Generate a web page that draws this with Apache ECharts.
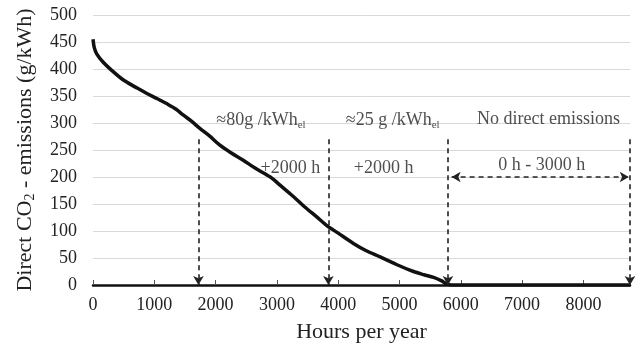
<!DOCTYPE html>
<html>
<head>
<meta charset="utf-8">
<script src="https://cdn.jsdelivr.net/npm/echarts@6/dist/echarts.min.js"></script>
<style>
  html, body { margin: 0; padding: 0; background: #fff; }
  #chart { width: 640px; height: 346px; }
</style>
</head>
<body>
<div id="chart"></div>
<script>
  // emission duration curve (hours sorted by intensity)
  const hours = [0, 20, 60, 163, 300, 490, 700, 872, 1050, 1199, 1350, 1470, 1600, 1743, 1900, 2070, 2250, 2451,
    2650, 2892, 3050, 3268, 3450, 3650, 3814, 4000, 4248, 4450, 4685, 4950, 5229, 5400, 5556, 5680, 5774, 5850, 8760]
  const emissions = [455, 440, 428, 413, 398, 380, 366, 355, 345, 336, 326, 315, 304, 290, 276, 259, 245, 231,
    216, 200, 185, 164, 145, 126, 110, 96, 77, 64, 52, 38, 25, 19, 14, 8, 2, 0, 0]

  const xTicks = [0, 1000, 2000, 3000, 4000, 5000, 6000, 7000, 8000]
  const yTicks = [0, 50, 100, 150, 200, 250, 300, 350, 400, 450, 500]

  // dashed arrows pointing down to the axis
  const markerHours = [1720, 3840, 5790, 8760]
  const markerTop = 270
  // double arrow for the no-emission range
  const rangeArrow = [5850, 8740]
  const rangeArrowY = 200

  // annotation texts [hours, value, text]
  const notes = [
    [2740, 305, '≈80g /kWh{sub|el}'],
    [4890, 305, '≈25 g /kWh{sub|el}'],
    [7430, 307, 'No direct emissions'],
    [3220, 216, '+2000 h'],
    [4740, 216, '+2000 h'],
    [7320, 222, '0 h - 3000 h']
  ]

  const serif = '"Liberation Serif", "DejaVu Serif", serif'
  const chart = echarts.init(document.getElementById('chart'))

  const markLines = markerHours.map(h => [
    { coord: [h, markerTop], symbol: 'none' },
    { coord: [h, 0], symbol: 'arrow' }
  ])
  markLines.push([
    { coord: [rangeArrow[0], rangeArrowY], symbol: 'arrow' },
    { coord: [rangeArrow[1], rangeArrowY], symbol: 'arrow' }
  ])

  chart.setOption({
    animation: false,
    grid: { left: 93, right: 10, top: 15, bottom: 61, outerBoundsMode: 'none' },
    xAxis: {
      type: 'value',
      min: 0,
      max: 8760,
      interval: 1000,
      name: 'Hours per year',
      nameLocation: 'middle',
      nameGap: 36,
      nameTextStyle: { fontFamily: serif, fontSize: 22, color: '#222' },
      axisLine: { show: true, onZero: false, lineStyle: { color: '#111', width: 2.5 } },
      axisTick: { show: true, inside: true, length: 5, lineStyle: { color: '#555', width: 1 } },
      axisLabel: {
        fontFamily: serif, fontSize: 18, color: '#222', margin: 11,
        showMaxLabel: false,
        formatter: v => xTicks.includes(v) ? String(v) : ''
      },
      splitLine: { show: false }
    },
    yAxis: {
      type: 'value',
      min: 0,
      max: 500,
      interval: 50,
      name: 'Direct CO{sub|2} - emissions (g/kWh)',
      nameLocation: 'middle',
      nameGap: 56,
      nameTextStyle: {
        fontFamily: serif, fontSize: 22, color: '#222',
        rich: { sub: { fontFamily: serif, fontSize: 14, color: '#222', verticalAlign: 'bottom', padding: [9, 0, 0, 0] } }
      },
      axisLine: { show: false },
      axisTick: { show: false },
      axisLabel: {
        fontFamily: serif, fontSize: 18, color: '#222', margin: 16,
        formatter: v => yTicks.includes(v) ? String(v) : ''
      },
      splitLine: { lineStyle: { color: '#d9d9d9', width: 1 } }
    },
    series: [
      {
        type: 'line',
        data: hours.map((h, i) => [h, emissions[i]]),
        showSymbol: false,
        smooth: 0.3,
        lineStyle: { color: '#111', width: 3.5 },
        z: 3,
        markLine: {
          silent: true,
          symbolSize: [8, 9],
          label: { show: false },
          lineStyle: { color: '#222', type: [5, 4], width: 1.6 },
          data: markLines
        }
      },
      {
        type: 'scatter',
        symbolSize: 0,
        data: notes.map(n => ({ value: [n[0], n[1]], text: n[2] })),
        label: {
          show: true,
          position: 'inside',
          formatter: p => p.data.text,
          fontFamily: serif,
          fontSize: 18,
          color: '#222',
          rich: { sub: { fontFamily: serif, fontSize: 11, color: '#222', verticalAlign: 'bottom', padding: [10, 0, 0, 0] } }
        },
        z: 4
      }
    ]
  })
</script>
</body>
</html>
